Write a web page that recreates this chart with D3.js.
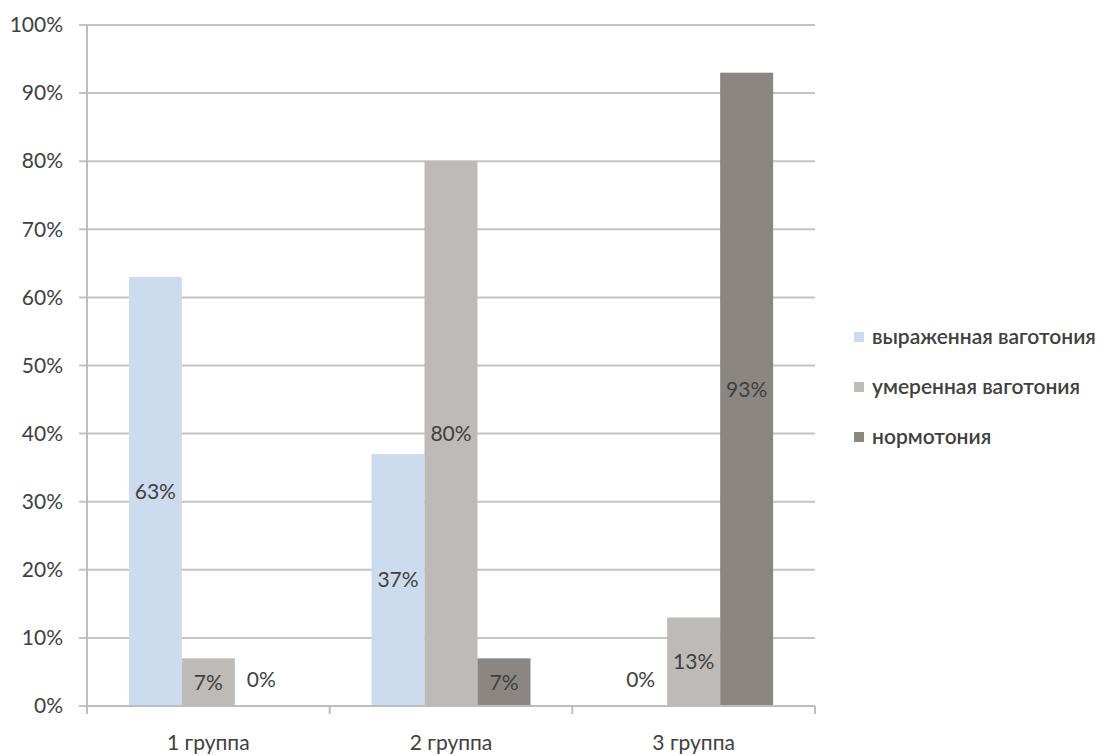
<!DOCTYPE html>
<html>
<head>
<meta charset="utf-8">
<script src="https://cdn.jsdelivr.net/npm/d3@7"></script>
<style>
  html, body { margin: 0; padding: 0; background: #ffffff; }
  svg { display: block; }
  text { font-family: Lato, "Open Sans", sans-serif; fill: #404040; }
</style>
</head>
<body>
<svg id="chart" width="1114" height="756"></svg>
<script>
const categories = ["1 группа", "2 группа", "3 группа"];
const seriesNames = ["выраженная ваготония", "умеренная ваготония", "нормотония"];
const seriesColors = ["#cddbee", "#bebab7", "#8b8682"];
const expressedVagotonia = [63, 37, 0];
const moderateVagotonia = [7, 80, 13];
const normotonia = [0, 7, 93];
const yTicks = [0, 10, 20, 30, 40, 50, 60, 70, 80, 90, 100];

const seriesValues = [expressedVagotonia, moderateVagotonia, normotonia];

const svg = d3.select("#chart");
const plot = { left: 87, right: 815, top: 25, bottom: 706 };

const x = d3.scaleBand().domain(categories).range([plot.left, plot.right]).paddingInner(0).paddingOuter(0);
const xs = d3.scaleBand().domain(seriesNames).range([0, x.bandwidth()]).paddingInner(0).paddingOuter(0.79);
const y = d3.scaleLinear().domain([0, 100]).range([plot.bottom, plot.top]);

// gridlines
svg.append("g")
  .selectAll("line")
  .data(yTicks)
  .join("line")
  .attr("x1", plot.left - 8)
  .attr("x2", plot.right)
  .attr("y1", d => y(d))
  .attr("y2", d => y(d))
  .attr("stroke", "#c4c4c4")
  .attr("stroke-width", 2);

// y axis labels
const yAxis = d3.axisLeft(y).tickValues(yTicks).tickFormat(d => d + "%").tickSize(0).tickPadding(24);
const yg = svg.append("g").attr("transform", `translate(${plot.left},0)`).call(yAxis);
yg.select(".domain").remove();
yg.selectAll("text").attr("font-size", 21).attr("fill", "#404040").attr("font-family", "Lato, sans-serif");

// vertical axis line
svg.append("line")
  .attr("x1", plot.left).attr("x2", plot.left)
  .attr("y1", plot.top).attr("y2", plot.bottom)
  .attr("stroke", "#bdbdbd").attr("stroke-width", 2);

// bars
const data = [];
categories.forEach((c, ci) => {
  seriesNames.forEach((s, si) => {
    data.push({ cat: c, ser: s, si, v: seriesValues[si][ci] });
  });
});

svg.append("g")
  .selectAll("rect")
  .data(data.filter(d => d.v > 0))
  .join("rect")
  .attr("x", d => x(d.cat) + xs(d.ser))
  .attr("width", xs.bandwidth())
  .attr("y", d => y(d.v))
  .attr("height", d => y(0) - y(d.v))
  .attr("fill", d => seriesColors[d.si]);

// x axis (baseline + ticks)
const xAxisG = svg.append("g");
xAxisG.append("line")
  .attr("x1", plot.left).attr("x2", plot.right)
  .attr("y1", y(0)).attr("y2", y(0))
  .attr("stroke", "#bdbdbd").attr("stroke-width", 2);
const boundaries = categories.map(c => x(c)).concat([x(categories[categories.length - 1]) + x.bandwidth()]);
xAxisG.selectAll("line.tick")
  .data(boundaries)
  .join("line")
  .attr("class", "tick")
  .attr("x1", d => d).attr("x2", d => d)
  .attr("y1", y(0)).attr("y2", y(0) + 8)
  .attr("stroke", "#bdbdbd").attr("stroke-width", 2);
xAxisG.selectAll("text")
  .data(categories)
  .join("text")
  .attr("x", d => x(d) + x.bandwidth() / 2)
  .attr("y", y(0) + 37)
  .attr("dy", "0.35em")
  .attr("text-anchor", "middle")
  .attr("font-size", 21)
  .text(d => d);

// data labels
svg.append("g")
  .selectAll("text")
  .data(data)
  .join("text")
  .attr("x", d => x(d.cat) + xs(d.ser) + xs.bandwidth() / 2)
  .attr("y", d => d.v > 0 ? (y(d.v) + y(0)) / 2 : y(0) - 26)
  .attr("dy", "0.35em")
  .attr("text-anchor", "middle")
  .attr("font-size", 21)
  .text(d => d.v + "%");

// legend
const legend = svg.append("g").attr("transform", "translate(854,0)");
const legendY = [337, 387, 437];
const li = legend.selectAll("g")
  .data(seriesNames)
  .join("g")
  .attr("transform", (d, i) => `translate(0,${legendY[i]})`);
li.append("rect")
  .attr("x", 0).attr("y", -5)
  .attr("width", 10).attr("height", 10)
  .attr("fill", (d, i) => seriesColors[i]);
li.append("text")
  .attr("x", 18)
  .attr("dy", "0.35em")
  .attr("font-size", 21)
  .attr("font-weight", 600)
  .attr("fill", "#383838")
  .text(d => d);
</script>
</body>
</html>
